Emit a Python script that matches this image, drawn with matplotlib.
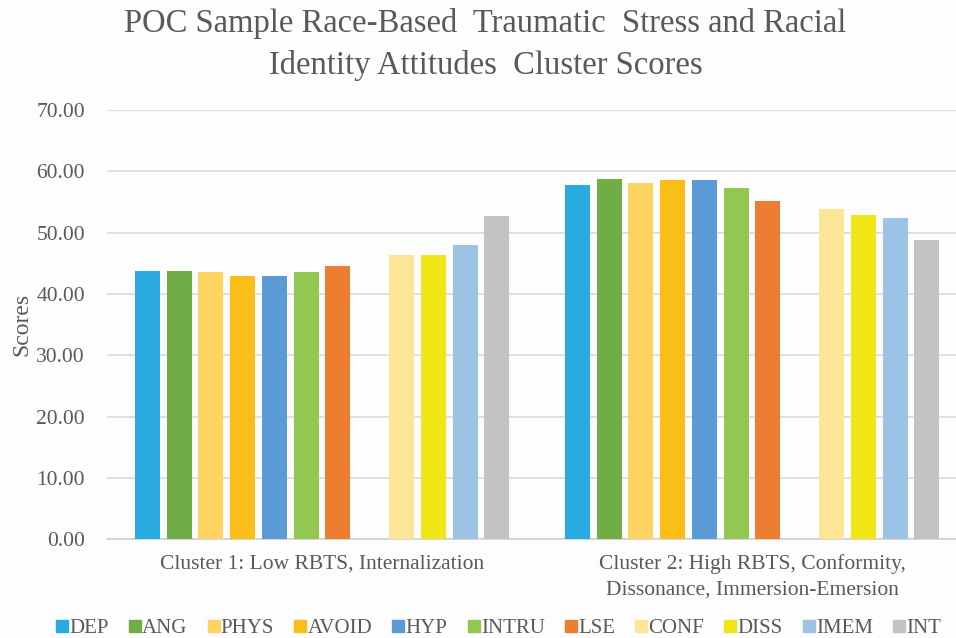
import numpy as np
import matplotlib
matplotlib.use("Agg")
import matplotlib.pyplot as plt
from matplotlib.lines import Line2D

plt.rcParams['font.family'] = ['Liberation Serif', 'DejaVu Serif']

clusters = ["Cluster 1: Low RBTS, Internalization",
            "Cluster 2: High RBTS, Conformity,\nDissonance, Immersion-Emersion"]
series = ["DEP", "ANG", "PHYS", "AVOID", "HYP", "INTRU", "LSE", "", "CONF", "DISS", "IMEM", "INT"]
scores_c1 = [43.7, 43.7, 43.5, 43.0, 43.0, 43.5, 44.5, 0, 46.3, 46.3, 48.0, 52.7]
scores_c2 = [57.8, 58.7, 58.1, 58.5, 58.5, 57.2, 55.2, 0, 53.8, 52.9, 52.3, 48.8]
colors = ["#29abe2", "#70ad47", "#fdd462", "#fbbd17", "#5b9bd5", "#92c851", "#ed7d31",
          "none", "#fde597", "#f0e616", "#9dc3e6", "#c3c3c3"]
yticks = [0, 10, 20, 30, 40, 50, 60, 70]

txt = "#595959"
fig = plt.figure(figsize=(9.56, 6.38), dpi=100, facecolor="#fdfdfe")
ax = fig.add_axes([0.112, 0.1547, 0.888, 0.673], facecolor="#fdfdfe")

x = np.arange(len(clusters))
slot = 0.0739
width = 0.058
handles = []
for i, name in enumerate(series):
    if name == "":
        continue
    off = (i - 5.5) * slot
    ax.bar(x + off, [scores_c1[i], scores_c2[i]], width=width, color=colors[i], zorder=3)
    handles.append(Line2D([], [], marker="s", linestyle="none", markersize=9,
                          markerfacecolor=colors[i], markeredgecolor=colors[i], label=name))

ax.set_xlim(-0.5, -0.5 + 0.888 * 956 / 430)
ax.set_ylim(0, 70)
ax.set_yticks(yticks)
ax.set_yticklabels([f"{v:.2f}" for v in yticks])
ax.yaxis.grid(True, color="#d9d9d9", linewidth=1.2, zorder=0)
ax.set_xticks(x)
ax.set_xticklabels(clusters, fontsize=15.5, color=txt, linespacing=1.45, va="top")
ax.tick_params(axis="x", length=0, pad=11)
ax.tick_params(axis="y", length=0, labelsize=15.5, labelcolor=txt, pad=16)
for s in ["top", "right", "left"]:
    ax.spines[s].set_visible(False)
ax.spines["bottom"].set_color("#d0d0d0")
ax.spines["bottom"].set_linewidth(1.2)
ax.set_ylabel("Scores", fontsize=17, color=txt, labelpad=3)

fig.text(0.508, 0.987, "POC Sample Race-Based  Traumatic  Stress and Racial\nIdentity Attitudes  Cluster Scores",
         ha="center", va="top", fontsize=23.5, color=txt, linespacing=1.45)

fig.legend(handles=handles, loc="lower center", bbox_to_anchor=(0.522, -0.03), ncol=11,
           frameon=False, fontsize=15, handlelength=0.5, handletextpad=0.1,
           columnspacing=1.0, labelcolor=txt)

fig.savefig("out.png", dpi=100, facecolor=fig.get_facecolor())
